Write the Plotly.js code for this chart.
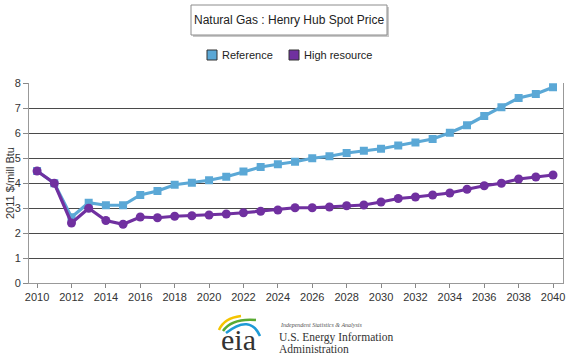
<!DOCTYPE html>
<html>
<head>
<meta charset="utf-8">
<script src="https://cdn.plot.ly/plotly-3.0.1.min.js"></script>
<style>html,body{margin:0;padding:0;background:#fff;}#chart{width:570px;height:356px;}</style>
</head>
<body>
<div id="chart"></div>
<script>
var years = [2010,2011,2012,2013,2014,2015,2016,2017,2018,2019,2020,2021,2022,2023,2024,2025,2026,2027,2028,2029,2030,2031,2032,2033,2034,2035,2036,2037,2038,2039,2040];
var referenceValues = [4.48,3.99,2.63,3.21,3.11,3.11,3.52,3.68,3.93,4.01,4.11,4.25,4.46,4.64,4.75,4.85,4.99,5.07,5.20,5.29,5.37,5.50,5.62,5.76,6.01,6.31,6.68,7.03,7.40,7.56,7.83];
var highResourceValues = [4.48,3.99,2.40,2.99,2.50,2.35,2.64,2.61,2.67,2.69,2.72,2.76,2.81,2.87,2.92,3.01,3.01,3.04,3.09,3.12,3.24,3.38,3.44,3.52,3.60,3.75,3.89,3.99,4.16,4.24,4.32];
var xTicks = [2010,2012,2014,2016,2018,2020,2022,2024,2026,2028,2030,2032,2034,2036,2038,2040];
var seriesNames = ['Reference','High resource'];
var chartTitle = 'Natural Gas : Henry Hub Spot Price';
var yTitle = '2011 $/mill Btu';

var W = 570, H = 356, L = 29, R = 563, T = 83, B = 283;
function px(x){ return (x - L) / (R - L); }
function py(y){ return (B - y) / (B - T); }
function qpath(a, c, b){ return 'M' + px(a[0]).toFixed(4) + ',' + py(a[1]).toFixed(4) + ' Q' + px(c[0]).toFixed(4) + ',' + py(c[1]).toFixed(4) + ' ' + px(b[0]).toFixed(4) + ',' + py(b[1]).toFixed(4); }

var refColor = '#5ba8d6', highColor = '#7030a0';
var traces = [
  {x: years, y: referenceValues, name: seriesNames[0], mode: 'lines+markers', type: 'scatter',
   line: {color: refColor, width: 3.2}, marker: {symbol: 'square', size: 8, color: refColor}, showlegend: false, cliponaxis: false},
  {x: years, y: highResourceValues, name: seriesNames[1], mode: 'lines+markers', type: 'scatter',
   line: {color: highColor, width: 3.2}, marker: {symbol: 'circle', size: 9, color: highColor}, showlegend: false, cliponaxis: false}
];

var shapes = [
  {type: 'rect', xref: 'paper', yref: 'paper', x0: px(193), x1: px(389), y0: py(7), y1: py(37), fillcolor: '#c8c8c8', line: {width: 0}, layer: 'below'},
  {type: 'rect', xref: 'paper', yref: 'paper', x0: px(191), x1: px(387), y0: py(5), y1: py(35), fillcolor: '#ffffff', line: {color: '#8c8c8c', width: 1}, layer: 'below'},
  {type: 'rect', xref: 'paper', yref: 'paper', x0: px(207), x1: px(217), y0: py(50), y1: py(60), fillcolor: refColor, line: {color: '#333', width: 1}},
  {type: 'rect', xref: 'paper', yref: 'paper', x0: px(289), x1: px(299), y0: py(50), y1: py(60), fillcolor: highColor, line: {color: '#333', width: 1}},
  {type: 'path', xref: 'paper', yref: 'paper', path: qpath([219,330],[224,318],[241,316]), line: {color: '#f5c400', width: 2.5}},
  {type: 'path', xref: 'paper', yref: 'paper', path: qpath([223,331],[232,318],[256,320]), line: {color: '#5aaa32', width: 2.5}},
  {type: 'path', xref: 'paper', yref: 'paper', path: qpath([226,333],[250,314],[260,336]), line: {color: '#1e9ad6', width: 2.5}}
];

var annotations = [
  {text: chartTitle, xref: 'paper', yref: 'paper', x: px(289), y: py(20), showarrow: false, xanchor: 'center', yanchor: 'middle', font: {family: 'Liberation Sans, Arial', size: 12, color: '#222'}},
  {text: seriesNames[0], xref: 'paper', yref: 'paper', x: px(220), y: py(55), showarrow: false, xanchor: 'left', yanchor: 'middle', font: {family: 'Liberation Sans, Arial', size: 11, color: '#222'}},
  {text: seriesNames[1], xref: 'paper', yref: 'paper', x: px(302), y: py(55), showarrow: false, xanchor: 'left', yanchor: 'middle', font: {family: 'Liberation Sans, Arial', size: 11, color: '#222'}},
  {text: yTitle, xref: 'paper', yref: 'paper', x: px(10), y: py(183), showarrow: false, textangle: -90, xanchor: 'center', yanchor: 'middle', font: {family: 'Liberation Sans, Arial', size: 11, color: '#333'}},
  {text: 'eia', xref: 'paper', yref: 'paper', x: px(238), y: py(339), showarrow: false, xanchor: 'center', yanchor: 'middle', font: {family: 'Liberation Serif, DejaVu Serif', size: 30, color: '#333'}},
  {text: '<i>Independent Statistics &amp; Analysis</i>', xref: 'paper', yref: 'paper', x: px(278), y: py(325), showarrow: false, xanchor: 'left', yanchor: 'middle', font: {family: 'Liberation Serif, DejaVu Serif', size: 6, color: '#555'}},
  {text: 'U.S. Energy Information', xref: 'paper', yref: 'paper', x: px(277), y: py(337), showarrow: false, xanchor: 'left', yanchor: 'middle', font: {family: 'Liberation Serif, DejaVu Serif', size: 11.5, color: '#333'}},
  {text: 'Administration', xref: 'paper', yref: 'paper', x: px(277), y: py(349), showarrow: false, xanchor: 'left', yanchor: 'middle', font: {family: 'Liberation Serif, DejaVu Serif', size: 11.5, color: '#333'}}
];

var layout = {
  width: W, height: H,
  margin: {l: L, r: W - R, t: T, b: H - B, pad: 0},
  paper_bgcolor: '#fff', plot_bgcolor: '#fff',
  showlegend: false,
  font: {family: 'Liberation Sans, Arial', size: 11, color: '#333'},
  xaxis: {range: [2009.53, 2040.58], tickvals: xTicks, ticktext: xTicks.map(String), ticks: 'outside', ticklen: 4, tickcolor: '#888',
          showline: true, linecolor: '#999', linewidth: 1, showgrid: false, zeroline: false, fixedrange: true,
          tickfont: {size: 11, color: '#333'}},
  yaxis: {range: [0, 8], dtick: 1, tick0: 0, ticks: 'outside', ticklen: 5, tickcolor: '#888', showline: true, mirror: true,
          linecolor: '#999', linewidth: 1, showgrid: true, gridcolor: '#4a4a4a', gridwidth: 1, zeroline: false, fixedrange: true,
          tickfont: {size: 11, color: '#333'}},
  shapes: shapes,
  annotations: annotations
};

Plotly.newPlot('chart', traces, layout, {staticPlot: true, displayModeBar: false});
</script>
</body>
</html>
